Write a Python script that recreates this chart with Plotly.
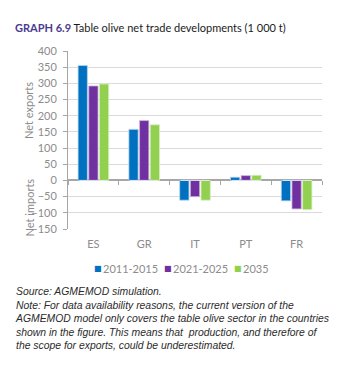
import plotly.graph_objects as go

# Net trade of table olives, thousand tonnes (positive = net exports)
countries = ["ES", "GR", "IT", "PT", "FR"]
series_names = ["2011-2015", "2021-2025", "2035"]
net_2011_2015 = [355, 158, -61, 10, -63]
net_2021_2025 = [292, 185, -50, 15, -88]
net_2035 = [298, 172, -61, 16, -90]
y_ticks = [-150, -100, -50, 0, 50, 100, 150, 200, 250, 300, 350, 400]

colors = ["#0070C0", "#7030A0", "#92D050"]
edge_colors = ["#B8D4EE", "#CDB6E0", "#D6EDBF"]
series_values = [net_2011_2015, net_2021_2025, net_2035]

AX_GREY = "#8C8C8C"
LINE_GREY = "#A6A6A6"
FONT = "Lato, Roboto, sans-serif"

fig = go.Figure()
for name, vals, col, edge in zip(series_names, series_values, colors, edge_colors):
    fig.add_trace(go.Bar(
        x=countries, y=vals, name=name,
        marker=dict(color=col, line=dict(color=edge, width=0.8)),
    ))

# companion x axis sitting on the zero line, carrying only boundary ticks
fig.add_trace(go.Bar(x=countries, y=[0] * len(countries), xaxis="x2",
                     showlegend=False, hoverinfo="skip",
                     marker=dict(color="rgba(0,0,0,0)")))

fig.update_layout(
    width=347, height=365,
    margin=dict(l=68, r=25, t=51, b=136),
    paper_bgcolor="white", plot_bgcolor="white",
    barmode="group", bargap=0.37, bargroupgap=0.13,
    font=dict(family=FONT, size=11, color=AX_GREY),
    showlegend=False,
    xaxis=dict(showline=False, showgrid=False, ticks="", zeroline=False,
               tickfont=dict(family=FONT, size=11, color=AX_GREY),
               ticklabelstandoff=7),
    xaxis2=dict(overlaying="x", matches="x", anchor="free",
                position=(0 - y_ticks[0]) / (y_ticks[-1] - y_ticks[0]),
                showline=False, showgrid=False, showticklabels=False,
                ticks="outside", tickson="boundaries", ticklen=4,
                tickcolor=LINE_GREY, tickwidth=1),
    yaxis=dict(range=[y_ticks[0], y_ticks[-1]], tickvals=y_ticks,
               showline=True, linecolor=LINE_GREY, linewidth=1,
               ticks="outside", ticklen=4, tickcolor=LINE_GREY,
               showgrid=True, gridcolor="#DADADA", gridwidth=1,
               zeroline=True, zerolinecolor=LINE_GREY, zerolinewidth=1.5,
               tickfont=dict(family=FONT, size=11, color=AX_GREY),
               ticklabelstandoff=4),
)

# compact key under the category labels: small swatch followed by the series name
key_left = 0.117   # paper x of first swatch centre
key_step = 0.2756  # paper distance between entries
key_y = -0.222
for i, (name, col) in enumerate(zip(series_names, colors)):
    x0 = key_left + i * key_step
    fig.add_annotation(text="■", xref="paper", yref="paper", x=x0, y=key_y,
                       xanchor="center", yanchor="middle", showarrow=False,
                       font=dict(family="DejaVu Sans", size=8, color=col))
    fig.add_annotation(text=name, xref="paper", yref="paper", x=x0 + 0.013, y=key_y,
                       xanchor="left", yanchor="middle", showarrow=False,
                       font=dict(family=FONT, size=11, color=AX_GREY))

# side captions for the positive / negative halves
fig.add_annotation(text="Net exports", xref="paper", yref="y", x=-0.153, y=215,
                   xanchor="center", yanchor="middle", textangle=-90, showarrow=False,
                   font=dict(family=FONT, size=11, color=AX_GREY))
fig.add_annotation(text="Net imports", xref="paper", yref="y", x=-0.153, y=-83,
                   xanchor="center", yanchor="middle", textangle=-90, showarrow=False,
                   font=dict(family=FONT, size=11, color=AX_GREY))

# heading
fig.add_annotation(
    text="<b><span style='color:#4B3B8F'>GRAPH 6.9</span></b> Table olive net trade developments (1 000 t)",
    xref="paper", yref="paper", x=-0.217, y=1.13, xanchor="left", yanchor="middle",
    showarrow=False, font=dict(family=FONT, size=11, color="#1A1A1A"))

# source and note
note_lines = [
    "Source: AGMEMOD simulation.",
    "Note: For data availability reasons, the current version of the",
    "AGMEMOD model only covers the table olive sector in the countries",
    "shown in the figure. This means that  production, and therefore of",
    "the scope for exports, could be underestimated.",
]
fig.add_annotation(
    text="<br>".join(f"<i>{ln}</i>" for ln in note_lines),
    xref="paper", yref="paper", x=-0.217, y=-0.309, xanchor="left", yanchor="top",
    align="left", showarrow=False,
    font=dict(family="Liberation Sans, Arial, sans-serif", size=10.4, color="#2B2B2B"))

fig.write_html("out.html")
